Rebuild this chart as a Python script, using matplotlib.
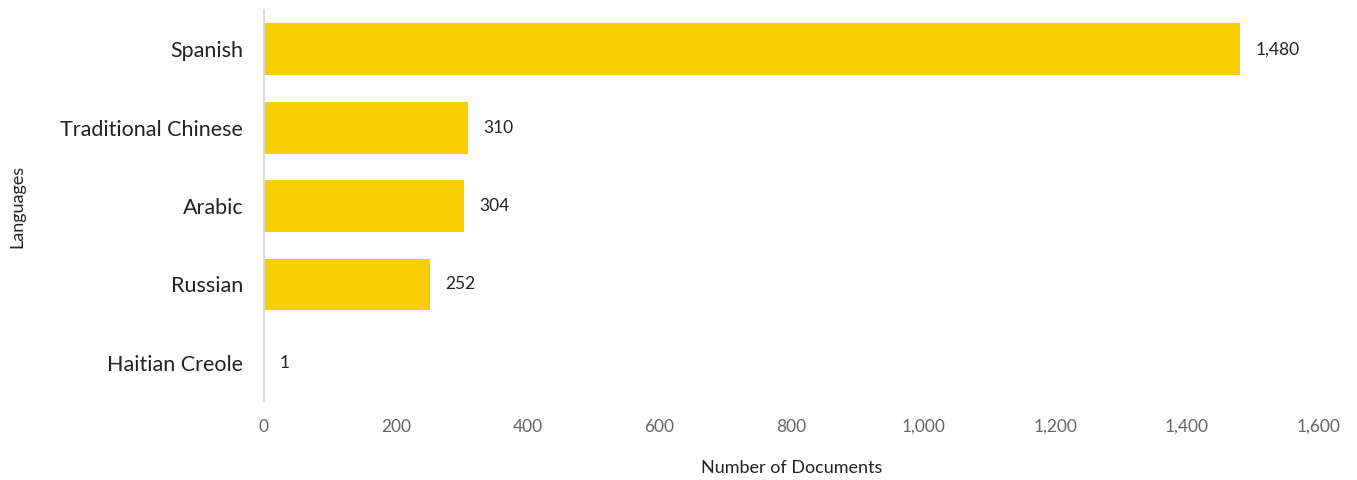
import matplotlib
matplotlib.use("Agg")
import matplotlib.pyplot as plt
from matplotlib.ticker import FuncFormatter

languages = ["Spanish", "Traditional Chinese", "Arabic", "Russian", "Haitian Creole"]
documents = [1480, 310, 304, 252, 1]
x_ticks = [0, 200, 400, 600, 800, 1000, 1200, 1400, 1600]

plt.rcParams["font.family"] = ["Lato", "DejaVu Sans"]

fig = plt.figure(figsize=(13.57, 4.8), dpi=100)
ax = fig.add_axes([0.1945, 0.1625, 0.972 - 0.1945, 0.979 - 0.1625])

pos = list(range(len(languages)))
ax.barh(pos, documents, height=0.66, color="#F9CE00")
for y, v in zip(pos, documents):
    ax.annotate(f"{v:,}", xy=(v, y), xytext=(11, 0), textcoords="offset points",
                va="center", ha="left", fontsize=12.5, color="#222222")

ax.set_ylim(len(languages) - 0.5, -0.5)
ax.set_xlim(0, 1600)
ax.set_yticks(pos)
ax.set_yticklabels(languages, fontsize=15.5, color="#222222")
ax.set_xticks(x_ticks)
ax.xaxis.set_major_formatter(FuncFormatter(lambda v, _: f"{int(v):,}"))
ax.tick_params(axis="x", labelsize=12.5, labelcolor="#666666", length=0, pad=12)
ax.tick_params(axis="y", length=0, pad=15)

for side in ["top", "right", "bottom"]:
    ax.spines[side].set_visible(False)
ax.spines["left"].set_color("#d9d9d9")
ax.spines["left"].set_linewidth(1.5)

ax.set_xlabel("Number of Documents", fontsize=13, color="#222222")
ax.xaxis.set_label_coords(0.5, -0.148)
ax.set_ylabel("Languages", fontsize=13, color="#222222")
ax.yaxis.set_label_coords(-0.226, 0.5)

fig.savefig("out.png", dpi=100)
